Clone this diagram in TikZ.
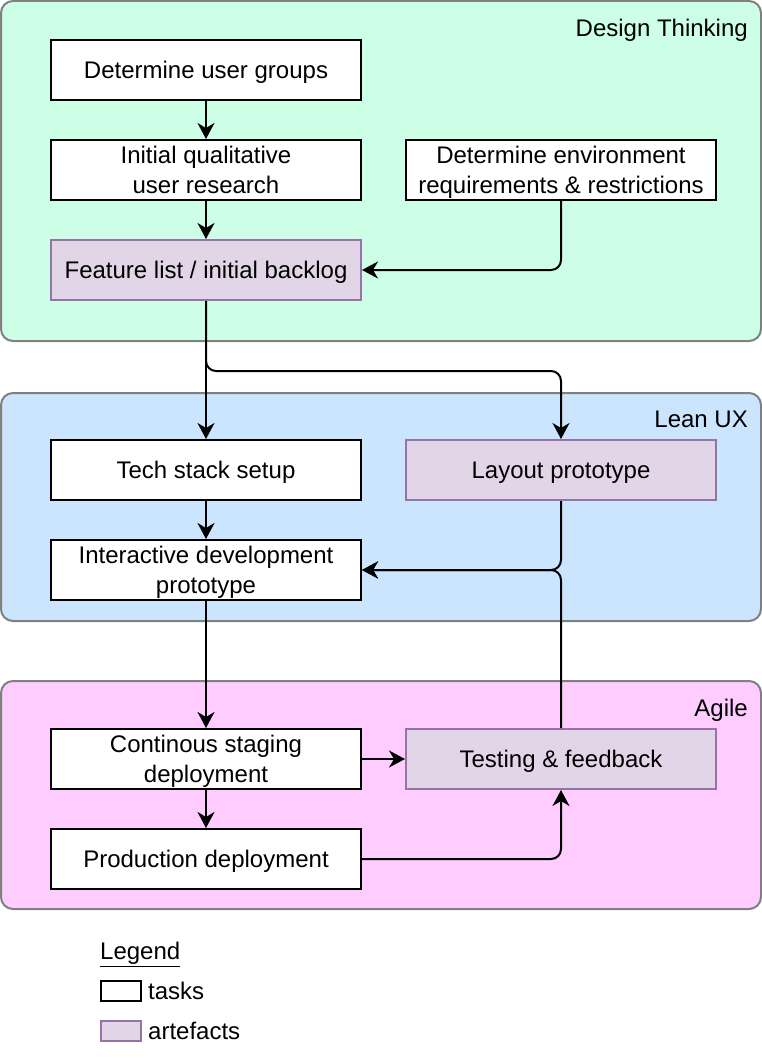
\documentclass[tikz,border=0pt]{standalone}
\usepackage{fontspec}
\setmainfont{Liberation Sans}
\usetikzlibrary{arrows.meta}
\definecolor{dtfill}{HTML}{CCFFE6}
\definecolor{lufill}{HTML}{CCE5FF}
\definecolor{agfill}{HTML}{FFCCFF}
\definecolor{contline}{HTML}{808080}
\definecolor{artfill}{HTML}{E1D5E7}
\definecolor{artline}{HTML}{9673A6}
\tikzset{
  txt/.style={font=\fontsize{24}{30}\selectfont, inner sep=0pt, text depth=0pt},
  container/.style={draw=contline, line width=2pt, rounded corners=12pt, inner sep=0pt},
  task/.style={txt, draw=black, fill=white, line width=2pt, minimum width=310pt, minimum height=60pt, align=center},
  artefact/.style={task, draw=artline, fill=artfill},
  arr/.style={draw=black, line width=2pt, -{Stealth[length=16pt, width=17pt, inset=5pt]}},
  conn/.style={arr, rounded corners=10pt},
}
\begin{document}
\begin{tikzpicture}[x=1pt, y=-1pt]
\useasboundingbox (0,0) rectangle (762,1062);
% containers
\node[container, fill=dtfill, minimum width=760pt, minimum height=340pt] (dt) at (381,171) {};
\node[container, fill=lufill, minimum width=760pt, minimum height=228pt] (lu) at (381,507) {};
\node[container, fill=agfill, minimum width=760pt, minimum height=228pt] (ag) at (381,795) {};
\node[txt, anchor=east] (dtl) at (748,28) {Design Thinking};
\node[txt, anchor=east] (lul) at (748,419) {Lean UX};
\node[txt, anchor=east] (agl) at (748,708) {Agile};
% boxes
\node[task] (ug) at (206,70) {Determine user groups};
\node[task] (qr) at (206,170) {Initial qualitative\\user research};
\node[task] (env) at (561,170) {Determine environment\\requirements \& restrictions};
\node[artefact] (fl) at (206,270) {Feature list / initial backlog};
\node[task] (ts) at (206,470) {Tech stack setup};
\node[artefact] (lp) at (561,470) {Layout prototype};
\node[task] (ip) at (206,570) {Interactive development\\prototype};
\node[task] (cs) at (206,759) {Continous staging\\deployment};
\node[artefact] (tf) at (561,759) {Testing \& feedback};
\node[task] (pd) at (206,859) {Production deployment};
% connectors
\draw[arr] (ug) -- (qr);
\draw[arr] (qr) -- (fl);
\draw[conn] (env.south) |- (fl.east);
\draw[arr] (fl) -- (ts);
\draw[conn] (fl.south) -- ++(0,70) -| (lp.north);
\draw[arr] (ts) -- (ip);
\draw[conn] (lp.south) |- (ip.east);
\draw[conn] (tf.north) |- (ip.east);
\draw[arr] (ip) -- (cs);
\draw[arr] (cs) -- (tf);
\draw[arr] (cs) -- (pd);
\draw[conn] (pd.east) -| (tf.south);
% legend
\node[txt, anchor=west] (lg) at (100,951) {\underline{Legend}};
\node[draw=black, fill=white, line width=2pt, minimum width=40pt, minimum height=20pt, inner sep=0pt] (lt) at (120.5,991) {};
\node[txt, anchor=west] (ltt) at (148,991) {tasks};
\node[draw=artline, fill=artfill, line width=2pt, minimum width=40pt, minimum height=20pt, inner sep=0pt] (la) at (120.5,1031) {};
\node[txt, anchor=west] (lat) at (148,1031) {artefacts};
\end{tikzpicture}
\end{document}
